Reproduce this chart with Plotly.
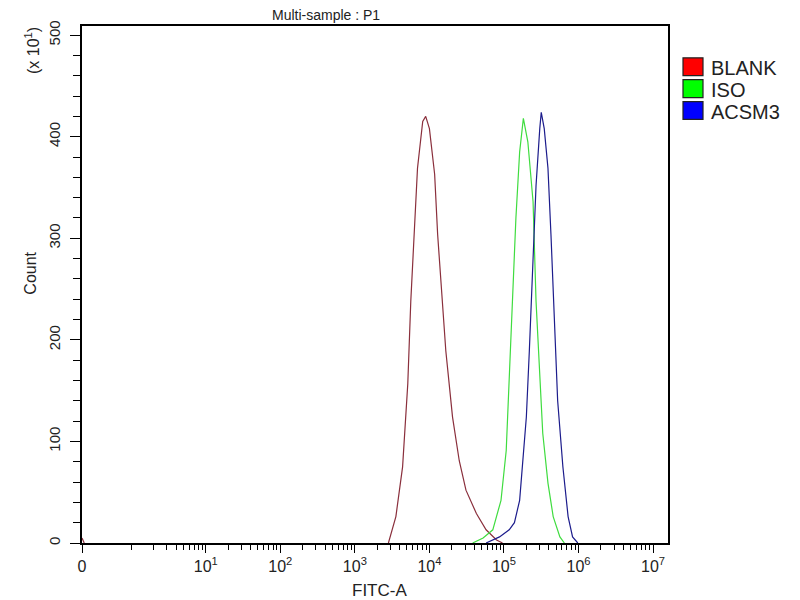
import numpy as np
import plotly.graph_objects as go

# x values are decade positions (log10 of FITC-A); "0" sits at the left edge
zero_pos = -0.66

blank_x = [zero_pos, -0.63, None, 3.45, 3.55, 3.64, 3.71, 3.75, 3.80, 3.84, 3.91, 3.95, 4.00, 4.07, 4.11, 4.16,
           4.22, 4.31, 4.40, 4.49, 4.63, 4.76, 4.90, 4.98]
blank_y = [5, 0, None, 0, 26, 75, 157, 238, 304, 369, 415, 420, 408, 363, 304, 255,
           189, 124, 81, 52, 29, 13, 3, 0]

iso_x = [4.58, 4.72, 4.85, 4.96, 5.03, 5.07, 5.12, 5.16, 5.21, 5.26, 5.32, 5.39, 5.43, 5.48,
         5.52, 5.59, 5.66, 5.75, 5.81]
iso_y = [0, 5, 13, 42, 91, 157, 238, 320, 385, 418, 395, 336, 238, 157,
         108, 59, 26, 6, 0]

acsm3_x = [4.76, 4.94, 5.07, 5.14, 5.21, 5.25, 5.30, 5.34, 5.39, 5.43, 5.48, 5.50, 5.54, 5.59,
           5.63, 5.68, 5.72, 5.79, 5.86, 5.92, 5.99]
acsm3_y = [0, 6, 13, 20, 42, 75, 124, 189, 287, 352, 408, 424, 408, 369,
           304, 222, 140, 75, 26, 6, 0]

names = ["BLANK", "ISO", "ACSM3"]
colors = ["#8a2f3c", "#3fdc3f", "#1c1c8c"]
swatch = ["#ff0000", "#00ff00", "#0000ff"]

x_tickvals = [zero_pos, 1, 2, 3, 4, 5, 6, 7]
x_ticktext = ["0"] + ["10<sup>%d</sup>" % d for d in range(1, 8)]
x_minor = [0] + [d + np.log10(k) for d in range(0, 7) for k in range(2, 10)]

font = "Liberation Sans, Arial"

fig = go.Figure()
for xs, ys, nm, c in zip([blank_x, iso_x, acsm3_x], [blank_y, iso_y, acsm3_y], names, colors):
    fig.add_trace(go.Scatter(x=xs, y=ys, name=nm, mode="lines", line=dict(color=c, width=1.2)))

# page body adds 8px, so margins are trimmed to keep the plot at 82..668 x 23..543
fig.update_layout(
    width=800, height=600,
    margin=dict(l=74, r=140, t=15, b=65),
    paper_bgcolor="white", plot_bgcolor="white",
    showlegend=False,
    font=dict(family=font, color="#222", size=15),
)
fig.update_xaxes(
    range=[zero_pos, 7.2], showgrid=False, zeroline=False,
    showline=True, linecolor="black", linewidth=1.5, mirror=True,
    tickmode="array", tickvals=x_tickvals, ticktext=x_ticktext,
    ticks="outside", ticklen=8, tickwidth=1.2, tickcolor="black",
    tickfont=dict(size=16),
    minor=dict(tickmode="array", tickvals=x_minor, ticks="outside", ticklen=5, tickcolor="black", tickwidth=1),
)
fig.update_yaxes(
    range=[0, 509], showgrid=False, zeroline=False,
    showline=True, linecolor="black", linewidth=1.5, mirror=True,
    tickmode="array", tickvals=[0, 100, 200, 300, 400, 500],
    ticks="outside", ticklen=10, tickwidth=1.2, tickcolor="black",
    tickangle=-90, tickfont=dict(size=15), ticklabelstandoff=4,
    minor=dict(tickmode="array", tickvals=[v for v in range(0, 501, 20) if v % 100], ticks="outside",
               ticklen=7, tickcolor="black", tickwidth=1),
)

def note(text, x, y, size, angle=0, xanchor="center"):
    fig.add_annotation(text=text, xref="paper", yref="paper", x=x, y=y, xanchor=xanchor,
                       yanchor="middle", textangle=angle, showarrow=False, font=dict(size=size))

# title and axis labels
note("Multi-sample : P1", 0.416, 1.022, 14)
note("FITC-A", 0.508, -0.092, 17)
note("Count", -0.087, 0.521, 16, angle=-90)
note("(x 10<sup>1</sup>)", -0.085, 0.952, 16, angle=-90)

# legend boxes
tops = [55, 77, 99]
for nm, c, top in zip(names, swatch, tops):
    fig.add_shape(type="rect", xref="paper", yref="paper",
                  x0=(683 - 82) / 586, x1=(703 - 82) / 586,
                  y0=(543 - top) / 520, y1=(543 - top - 18) / 520,
                  fillcolor=c, line=dict(color="#222", width=1.2))
    note(nm, (709 - 82) / 586, (543 - top - 10) / 520, 20, xanchor="left")

fig.write_html("out.html")
